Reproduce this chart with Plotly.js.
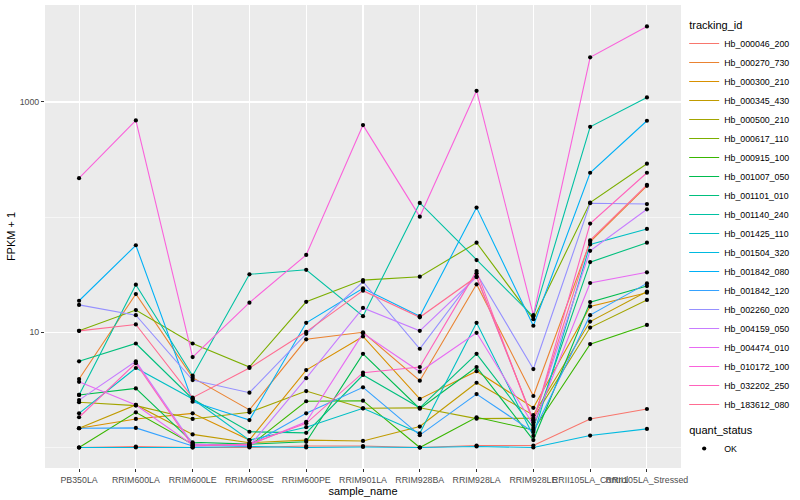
<!DOCTYPE html>
<html><head><meta charset="utf-8">
<script src="https://cdn.plot.ly/plotly-3.0.1.min.js"></script>
<style>body{margin:0;background:#fff}#chart{width:800px;height:500px}</style>
</head><body><div id="chart"></div>
<script>
const samples = ["PB350LA","RRIM600LA","RRIM600LE","RRIM600SE","RRIM600PE","RRIM901LA","RRIM928BA","RRIM928LA","RRIM928LE","RRII105LA_Control","RRII105LA_Stressed"];

const trackingIds = ["Hb_000046_200","Hb_000270_730","Hb_000300_210","Hb_000345_430","Hb_000500_210","Hb_000617_110","Hb_000915_100","Hb_001007_050","Hb_001101_010","Hb_001140_240","Hb_001425_110","Hb_001504_320","Hb_001842_080","Hb_001842_120","Hb_002260_020","Hb_004159_050","Hb_004474_010","Hb_010172_100","Hb_032202_250","Hb_183612_080"];

// FPKM + 1 per sample (order of samples)
const hb_000046_200 = [1.0, 1.02, 1.0, 1.0, 1.03, 1.03, 1.0, 1.04, 1.04, 1.77, 2.16];
const hb_000270_730 = [3.93, 21.5, 4.04, 2.12, 8.7, 10.0, 3.8, 26.1, 2.8, 61, 187];
const hb_000300_210 = [1.47, 1.77, 1.98, 1.16, 4.7, 9.2, 2.64, 4.6, 2.21, 16.8, 22.1];
const hb_000345_430 = [1.47, 2.34, 1.30, 1.10, 1.16, 1.14, 1.52, 3.65, 1.91, 12.4, 22.6];
const hb_000500_210 = [2.47, 2.31, 1.77, 2.02, 3.09, 2.19, 2.21, 1.78, 1.80, 11.0, 19.1];
const hb_000617_110 = [10.3, 15.6, 8.0, 5.0, 18.4, 28.4, 30.4, 60, 13.0, 134, 291];
const hb_000915_100 = [1.0, 2.02, 1.07, 1.03, 2.52, 2.55, 1.0, 1.83, 1.42, 7.9, 11.6];
const hb_001007_050 = [2.86, 3.26, 1.11, 1.07, 1.12, 6.5, 2.17, 5.0, 1.16, 18.3, 25.2];
const hb_001101_010 = [5.6, 8.0, 2.64, 1.37, 1.34, 4.26, 2.21, 6.5, 1.48, 40.7, 60];
const hb_001140_240 = [2.86, 25.9, 4.2, 31.9, 34.9, 13.8, 133, 42.4, 13.7, 609, 1096];
const hb_001425_110 = [1.98, 4.9, 2.64, 1.16, 1.50, 2.19, 1.33, 12.1, 1.26, 58, 79];
const hb_001504_320 = [1.0, 1.0, 1.0, 1.02, 1.0, 1.01, 1.0, 1.02, 1.0, 1.27, 1.45];
const hb_001842_080 = [18.8, 57, 2.5, 1.73, 12.1, 24.1, 13.8, 121, 11.4, 243, 687];
const hb_001842_120 = [1.47, 1.48, 1.03, 1.05, 1.98, 3.33, 1.28, 2.91, 1.36, 14.1, 26.6];
const hb_002260_020 = [17.3, 14.1, 3.85, 2.99, 9.7, 27.5, 7.2, 32.5, 4.8, 132, 130];
const hb_004159_050 = [2.58, 5.6, 1.07, 1.03, 4.0, 16.3, 10.3, 30.2, 1.73, 51, 117];
const hb_004474_010 = [3.72, 2.34, 1.05, 1.05, 1.67, 9.8, 4.55, 9.9, 1.57, 26.8, 33.2];
const hb_010172_100 = [218, 692, 6.1, 18.1, 47, 630, 101, 1250, 14.1, 2440, 4530];
const hb_032202_250 = [1.83, 5.4, 1.03, 1.07, 1.62, 4.46, 5.0, 34.0, 1.65, 88, 243];
const hb_183612_080 = [10.3, 11.7, 2.71, 4.9, 10.1, 23.0, 13.5, 30.4, 1.73, 63, 191];

const yTickVals = [10, 1000];
const yTickText = ["10", "1000"];
const yMinorVals = [1, 100];

const seriesValues = [hb_000046_200, hb_000270_730, hb_000300_210, hb_000345_430, hb_000500_210, hb_000617_110, hb_000915_100, hb_001007_050, hb_001101_010, hb_001140_240, hb_001425_110, hb_001504_320, hb_001842_080, hb_001842_120, hb_002260_020, hb_004159_050, hb_004474_010, hb_010172_100, hb_032202_250, hb_183612_080];

// ggplot2 hue palette for 20 levels (style)
const palette = ["#F8766D","#EA8331","#D89000","#C09B00","#A3A500","#7CAE00","#39B600","#00BB4E","#00BF7D","#00C1A3","#00BFC4","#00BAE0","#00B0F6","#35A2FF","#9590FF","#C77CFF","#E76BF3","#FA62DB","#FF62BC","#FF6C91"];

const FONT = "Liberation Sans, Arial, Helvetica, sans-serif";

const traces = seriesValues.map((vals, i) => {
  const t = {
    type: "scatter", mode: "lines",
    x: samples, y: vals,
    name: trackingIds[i],
    line: {color: palette[i], width: 1.1},
    legendgroup: "tracking"
  };
  if (i === 0) t.legendgrouptitle = {text: "tracking_id", font: {size: 11, color: "#000", family: FONT}};
  return t;
});

const allX = [], allY = [];
seriesValues.forEach(vals => vals.forEach((v, j) => { allX.push(samples[j]); allY.push(v); }));
traces.push({
  type: "scatter", mode: "markers",
  x: allX, y: allY, name: "OK",
  marker: {color: "#000", size: 4.2, symbol: "circle"},
  legendgroup: "quant",
  legendgrouptitle: {text: "quant_status", font: {size: 11, color: "#000", family: FONT}}
});

const layout = {
  width: 800, height: 500,
  margin: {l: 45, r: 116, t: 5, b: 32},
  paper_bgcolor: "#FFFFFF",
  plot_bgcolor: "#EBEBEB",
  font: {family: FONT, size: 9, color: "#4D4D4D"},
  showlegend: true,
  legend: {
    x: 1.005, xanchor: "left", y: 0.5, yanchor: "middle",
    font: {size: 8.8, color: "#000", family: FONT},
    traceorder: "grouped", tracegroupgap: 6,
    bgcolor: "rgba(0,0,0,0)", itemwidth: 30
  },
  xaxis: {
    type: "category", range: [-0.6, 10.6],
    showgrid: true, gridcolor: "#FFFFFF", gridwidth: 1.1,
    zeroline: false, showline: false,
    ticks: "outside", ticklen: 3, tickcolor: "#333333", tickwidth: 1,
    tickangle: 0, tickfont: {size: 8.8, color: "#4D4D4D", family: FONT},
    title: {text: "sample_name", font: {size: 11, color: "#000", family: FONT}, standoff: 3}
  },
  yaxis: {
    type: "log", range: [-0.178, 3.842],
    tickmode: "array", tickvals: yTickVals, ticktext: yTickText,
    showgrid: true, gridcolor: "#FFFFFF", gridwidth: 1.1,
    minor: {tickmode: "array", tickvals: yMinorVals, showgrid: true, gridcolor: "#FFFFFF", gridwidth: 0.55, ticks: ""},
    zeroline: false, showline: false,
    ticks: "outside", ticklen: 3, tickcolor: "#333333", tickwidth: 1,
    tickfont: {size: 8.8, color: "#4D4D4D", family: FONT},
    title: {text: "FPKM + 1", font: {size: 11, color: "#000", family: FONT}, standoff: 1}
  }
};

Plotly.newPlot("chart", traces, layout, {displayModeBar: false, staticPlot: true});
</script>
</body></html>
